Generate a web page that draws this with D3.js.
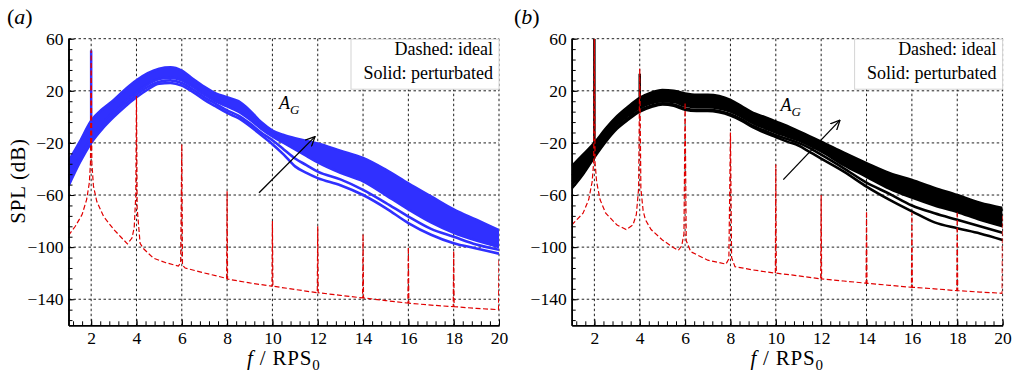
<!DOCTYPE html>
<html>
<head>
<meta charset="utf-8">
<script src="https://cdn.jsdelivr.net/npm/d3@7"></script>
<style>
body { margin: 0; background: #fff; }
svg text { font-family: "Liberation Serif", "DejaVu Serif", "Times New Roman", serif; }
</style>
</head>
<body>
<div id="chart"></div>
<script>
// frequency grid of the perturbated spectra (f / RPS0)
const freq = [1, 1.5, 2, 2.5, 3, 3.5, 4, 4.5, 5, 5.5, 6, 6.5, 7, 7.5, 8, 8.5, 9, 9.5, 10, 10.5, 11, 11.5, 12, 13, 14, 15, 16, 17, 18, 19, 20];

// panel (a): blue family of perturbated spectra, SPL in dB
const topA    = [-34, -19, -3, 6, 13, 21, 28, 33.5, 37, 38, 35.5, 29, 23, 18, 15, 12, 5, -4, -10.5, -14, -16.5, -18.5, -20.5, -26, -31.5, -40.5, -51, -61, -71, -79, -87];
const denseA  = [-47, -31, -16, -5, 4, 12, 19, 25, 29, 30, 28, 23, 17, 12, 8, 4, -2, -9, -15, -20, -25, -30, -35, -43, -49.5, -60, -71, -81, -89, -95, -100];
const lowerA  = [-50, -33, -18, -7, 2, 10, 17, 23, 27, 28, 26, 21, 15, 10, 5, 1, -5, -12, -18, -25, -32, -37, -42, -48, -56, -66, -76.5, -86, -92, -98, -102];
const lowestA = [-53, -35, -20, -9, 0, 8, 15, 21, 25.5, 26, 24, 19, 13, 8, 3, -1, -7, -14, -21, -29, -38, -43, -47, -52.5, -60, -70, -81.5, -90.5, -97, -101, -105];
const spikesA = [{f: 2, lo: -15, hi: 51}];

// panel (b): black family of perturbated spectra
const topB    = [-38, -29, -20, -9, 0.5, 8, 14.5, 18.5, 20.5, 20, 18, 17, 17, 16, 13, 8, 3, 0, -3.5, -7, -11, -15, -19, -27.5, -35.5, -43, -48.5, -54.5, -60, -66, -70];
const denseB  = [-50, -40, -28, -16, -6, 1, 7, 10.5, 12, 11.5, 8.5, 7.5, 7.5, 6.5, 4, 0, -5, -8.5, -12, -15, -18, -22, -26.5, -37, -46, -55, -62, -68, -73, -79, -84];
const lowerB  = [-52, -42, -30, -18, -8, -1, 5, 8.5, 10.5, 9.5, 6.5, 5.5, 5.5, 4.5, 2, -2, -7, -10.5, -14, -17, -20, -24, -29, -39.5, -50.5, -59, -68, -74, -79, -84, -89];
const lowestB = [-55, -44, -31, -19, -9, -2, 4, 7.5, 9.5, 8.5, 5.5, 4.5, 4.5, 3.5, 1, -3, -8, -12, -15.5, -19, -22, -27, -32, -42, -53.5, -63.5, -72.5, -81, -85.5, -89.5, -94.5];
const spikesB = [{f: 2, lo: -30, hi: 60}, {f: 4, lo: 8, hi: 33}];

// ideal (dashed) spectra: [f, SPL]
const idealA = [[1, -91], [1.3, -84], [1.6, -75], [1.8, -63.5], [1.92, -50.5], [1.97, -35], [2, 51], [2.03, -35],
  [2.1, -53], [2.25, -65], [2.55, -76.5], [3, -86.5], [3.3, -92], [3.6, -97.5], [3.8, -93], [3.9, -85], [3.97, -60],
  [4, 16], [4.03, -70], [4.16, -97], [4.3, -101], [4.75, -108.5], [5.3, -112], [5.85, -114.5], [5.95, -112], [6, -21],
  [6.03, -114], [6.15, -116], [6.8, -119], [7.98, -124], [8, -57], [8.02, -124.5], [9, -127.5], [9.98, -130], [10, -80],
  [10.02, -130], [11, -132.5], [11.98, -135], [12, -84], [12.02, -135], [13, -137], [13.98, -139], [14, -90], [14.02, -139],
  [15, -141], [15.98, -143], [16, -100], [16.02, -143], [17, -144.5], [17.98, -145.7], [18, -103], [18.02, -145.7],
  [19, -147], [19.98, -148], [20, -110]];
const idealB = [[1, -83], [1.5, -74], [1.75, -63.5], [1.9, -50], [1.97, -35], [2, 60], [2.03, -35], [2.1, -50],
  [2.25, -63.5], [2.5, -74], [3, -83], [3.4, -86.5], [3.7, -83], [3.85, -75], [3.95, -55], [4, 37], [4.05, -55],
  [4.15, -72], [4.25, -79], [4.5, -86.5], [5, -94.5], [5.5, -100.5], [5.7, -102.5], [5.85, -99], [5.95, -90], [6, 11],
  [6.05, -95], [6.25, -103.5], [7, -110], [7.8, -113], [7.93, -109], [8, -12], [8.05, -108], [8.2, -115], [9, -117.5],
  [9.98, -120], [10, -36.5], [10.02, -120], [11, -122], [11.98, -124.4], [12, -60], [12.02, -124.4], [13, -126],
  [13.98, -127.7], [14, -72.5], [14.02, -127.7], [15, -129.3], [15.98, -130.8], [16, -73.5], [16.02, -130.8], [17, -132],
  [17.98, -133.4], [18, -72.5], [18.02, -133.4], [19, -134.5], [19.98, -135.4], [20, -75]];

// ticks
const xTicks = [2, 4, 6, 8, 10, 12, 14, 16, 18, 20];
const yTicks = [-140, -100, -60, -20, 20, 60];
const legendLines = ["Dashed: ideal", "Solid: perturbated"];

// annotations: arrow [from, to] and A_G label, in data units
const arrowA = [[9.41, -58.2], [11.88, -15.2]];
const arrowB = [[10.33, -48.2], [12.83, -2.5]];
const labelA = [10.29, 6.4];
const labelB = [10.21, 4.8];

const W = 1019, H = 378;
const plotTop = 38.7, plotBottom = 325.3;
const serif = "'Liberation Serif', 'DejaVu Serif', 'Times New Roman', serif";

const svg = d3.select("#chart").append("svg")
    .attr("width", W)
    .attr("height", H)
    .attr("font-family", serif);

svg.append("defs").append("marker")
    .attr("id", "arrowhead")
    .attr("viewBox", "0 0 10 10")
    .attr("refX", 9.5).attr("refY", 5)
    .attr("markerWidth", 10).attr("markerHeight", 10)
    .attr("markerUnits", "userSpaceOnUse")
    .attr("orient", "auto")
    .append("path")
    .attr("d", "M0,0.5 L9.5,5 L0,9.5")
    .attr("fill", "none")
    .attr("stroke", "#000")
    .attr("stroke-width", 1.3);

function drawPanel(p) {
    const x = d3.scaleLinear().domain([1, 20]).range([p.left, p.right]);
    const y = d3.scaleLinear().domain([-160, 60]).range([plotBottom, plotTop]);
    const g = svg.append("g");

    svg.append("clipPath").attr("id", "clip-" + p.name)
        .append("rect")
        .attr("x", p.left).attr("y", plotTop)
        .attr("width", p.right - p.left).attr("height", plotBottom - plotTop);

    // dashed grid
    g.selectAll(".vgrid").data(xTicks).enter().append("line")
        .attr("x1", d => x(d)).attr("x2", d => x(d))
        .attr("y1", plotTop).attr("y2", plotBottom)
        .attr("stroke", "#222").attr("stroke-width", 1).attr("stroke-dasharray", "2.5,2.5");
    g.selectAll(".hgrid").data(yTicks).enter().append("line")
        .attr("x1", p.left).attr("x2", p.right)
        .attr("y1", d => y(d)).attr("y2", d => y(d))
        .attr("stroke", "#222").attr("stroke-width", 1).attr("stroke-dasharray", "2.5,2.5");

    const plot = g.append("g").attr("clip-path", "url(#clip-" + p.name + ")");

    const rows = freq.map((f, i) => ({f: f, top: p.top[i], dense: p.dense[i], lower: p.lower[i], lowest: p.lowest[i]}));

    const area = d3.area()
        .x(d => x(d.f)).y0(d => y(d.dense)).y1(d => y(d.top))
        .curve(d3.curveMonotoneX);
    plot.append("path").datum(rows).attr("d", area).attr("fill", p.color);

    ["top", "dense", "lower", "lowest"].forEach(k => {
        const line = d3.line().x(d => x(d.f)).y(d => y(d[k])).curve(d3.curveMonotoneX);
        plot.append("path").datum(rows)
            .attr("d", line)
            .attr("fill", "none")
            .attr("stroke", p.color)
            .attr("stroke-width", 2.6);
    });

    plot.selectAll(".spike").data(p.spikes).enter().append("line")
        .attr("x1", d => x(d.f)).attr("x2", d => x(d.f))
        .attr("y1", d => y(d.lo)).attr("y2", d => y(d.hi))
        .attr("stroke", p.color).attr("stroke-width", 2.5);

    const idealLine = d3.line().x(d => x(d[0])).y(d => y(d[1]));
    plot.append("path").datum(p.ideal)
        .attr("d", idealLine)
        .attr("fill", "none")
        .attr("stroke", "#e00000")
        .attr("stroke-width", 1.2)
        .attr("stroke-dasharray", "5,2.5");

    // axes with inward ticks
    const xMinor = d3.range(3, 51).map(k => k * 0.4);
    const yMinor = d3.range(0, 28).map(k => -156 + k * 8);

    g.append("g").attr("transform", "translate(0," + plotBottom + ")")
        .call(d3.axisBottom(x).tickValues(xMinor).tickSize(-4).tickSizeOuter(0).tickFormat(""));
    const xa = g.append("g").attr("transform", "translate(0," + plotBottom + ")")
        .call(d3.axisBottom(x).tickValues(xTicks).tickSize(-6).tickSizeOuter(0).tickPadding(6));
    g.append("g").attr("transform", "translate(" + p.left + ",0)")
        .call(d3.axisLeft(y).tickValues(yMinor).tickSize(-4).tickSizeOuter(0).tickFormat(""));
    const ya = g.append("g").attr("transform", "translate(" + p.left + ",0)")
        .call(d3.axisLeft(y).tickValues(yTicks).tickSize(-6).tickSizeOuter(0).tickPadding(5));

    g.selectAll(".domain").attr("stroke", "#000").attr("stroke-width", 1.6);
    g.selectAll(".tick line").attr("stroke", "#000").attr("stroke-width", 1);
    [xa, ya].forEach(a => {
        a.attr("font-family", serif).attr("font-size", 17.5);
        a.selectAll("text").attr("fill", "#000");
    });

    // legend box
    const lg = g.append("g");
    lg.append("rect")
        .attr("x", p.right - 148).attr("y", plotTop + 0.5)
        .attr("width", 148).attr("height", 50)
        .attr("fill", "#fff").attr("stroke", "#d4d4d4").attr("stroke-width", 1);
    lg.selectAll("text").data(legendLines).enter().append("text")
        .attr("x", p.right - 6)
        .attr("y", (d, i) => 54.5 + i * 24.5)
        .attr("text-anchor", "end")
        .attr("font-size", 18)
        .text(d => d);

    // arrow and A_G
    g.append("line")
        .attr("x1", x(p.arrow[0][0])).attr("y1", y(p.arrow[0][1]))
        .attr("x2", x(p.arrow[1][0])).attr("y2", y(p.arrow[1][1]))
        .attr("stroke", "#000").attr("stroke-width", 1.3)
        .attr("marker-end", "url(#arrowhead)");
    const ag = g.append("text")
        .attr("x", x(p.label[0])).attr("y", y(p.label[1]))
        .attr("font-size", 18).attr("font-style", "italic");
    ag.append("tspan").text("A");
    ag.append("tspan").attr("font-size", 13).attr("dy", 5).text("G");

    // x axis label
    const xl = g.append("text")
        .attr("x", (p.left + p.right) / 2).attr("y", 365)
        .attr("text-anchor", "middle")
        .attr("font-size", 21)
        .attr("letter-spacing", 0.8);
    xl.append("tspan").attr("font-style", "italic").text("f");
    xl.append("tspan").text(" / RPS");
    xl.append("tspan").attr("font-size", 15).attr("dy", 5).text("0");

    // panel tag
    const tag = g.append("text")
        .attr("x", p.tagX).attr("y", 24)
        .attr("font-size", 22);
    tag.append("tspan").text("(");
    tag.append("tspan").attr("font-style", "italic").text(p.name);
    tag.append("tspan").text(")");
}

drawPanel({name: "a", left: 68.5, right: 499, color: "#3030ff",
    top: topA, dense: denseA, lower: lowerA, lowest: lowestA, spikes: spikesA,
    ideal: idealA, arrow: arrowA, label: labelA, tagX: 7});
drawPanel({name: "b", left: 571.7, right: 1002.6, color: "#000",
    top: topB, dense: denseB, lower: lowerB, lowest: lowestB, spikes: spikesB,
    ideal: idealB, arrow: arrowB, label: labelB, tagX: 514});

svg.append("text")
    .attr("transform", "translate(25,181) rotate(-90)")
    .attr("text-anchor", "middle")
    .attr("font-size", 21)
    .attr("letter-spacing", 0.8)
    .text("SPL (dB)");
</script>
</body>
</html>
